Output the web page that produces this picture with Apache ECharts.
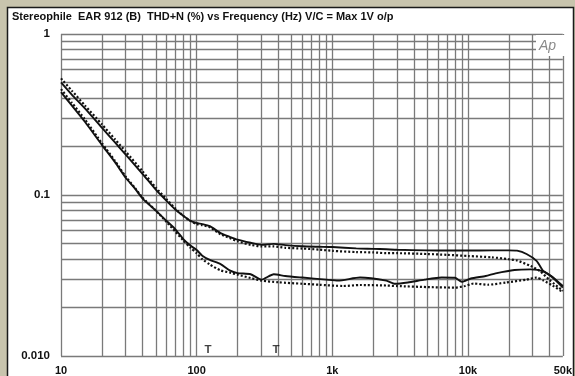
<!DOCTYPE html>
<html>
<head>
<meta charset="utf-8">
<script src="https://cdn.jsdelivr.net/npm/echarts@6/dist/echarts.min.js"></script>
<style>
  html, body { margin: 0; padding: 0; background: #c8c4ad; }
  #chart { width: 575px; height: 376px; }
</style>
</head>
<body>
<div id="chart"></div>
<script>
// THD+N (%) vs frequency (Hz), two channels, solid + dotted traces each
const freqASolid = [10, 12, 15, 20, 25, 30, 40, 50, 60, 70, 80, 90, 100, 110, 125, 150, 175, 200, 250, 300, 370, 450, 600, 800, 1000, 1500, 2000, 2500, 3000, 5000, 7000, 10000, 15000, 20000, 23000, 27000, 32000, 36000, 42000, 50000];
const thdASolid  = [0.50, 0.42, 0.345, 0.262, 0.212, 0.178, 0.135, 0.108, 0.092, 0.081, 0.074, 0.069, 0.067, 0.066, 0.064, 0.058, 0.055, 0.0528, 0.0505, 0.049, 0.0497, 0.0488, 0.048, 0.0477, 0.0475, 0.0466, 0.0463, 0.046, 0.0457, 0.0453, 0.0452, 0.0452, 0.0453, 0.0453, 0.0451, 0.043, 0.039, 0.0336, 0.031, 0.0272];

const freqADot = [10, 12, 15, 20, 25, 30, 40, 50, 60, 70, 80, 90, 100, 110, 125, 150, 175, 200, 250, 300, 370, 450, 600, 800, 1000, 1500, 2000, 2500, 3000, 5000, 7000, 10000, 15000, 20000, 23000, 29000, 34000, 40000, 50000];
const thdADot  = [0.53, 0.445, 0.36, 0.275, 0.222, 0.186, 0.14, 0.111, 0.094, 0.082, 0.074, 0.069, 0.066, 0.065, 0.063, 0.057, 0.054, 0.0516, 0.049, 0.048, 0.048, 0.047, 0.0465, 0.0458, 0.045, 0.0442, 0.044, 0.0435, 0.0435, 0.043, 0.0425, 0.0418, 0.041, 0.0399, 0.0392, 0.0362, 0.0336, 0.0296, 0.0254];

const freqBSolid = [10, 12, 15, 20, 25, 30, 35, 40, 50, 60, 70, 80, 90, 100, 110, 125, 150, 175, 200, 250, 300, 370, 450, 600, 900, 1100, 1600, 2500, 2900, 3600, 4800, 6400, 8000, 9000, 10500, 13500, 16000, 22000, 29000, 36000, 42000, 50000];
const thdBSolid  = [0.435, 0.36, 0.285, 0.205, 0.16, 0.128, 0.11, 0.095, 0.08, 0.069, 0.061, 0.053, 0.0485, 0.0455, 0.042, 0.0395, 0.0372, 0.034, 0.0327, 0.0322, 0.0298, 0.0322, 0.0314, 0.0307, 0.0298, 0.0294, 0.0307, 0.0294, 0.0281, 0.0286, 0.0298, 0.0307, 0.0306, 0.0289, 0.0303, 0.0314, 0.0326, 0.0342, 0.0345, 0.0335, 0.0307, 0.0266];

const freqBDot = [10, 12, 15, 20, 25, 30, 35, 40, 50, 60, 70, 80, 90, 100, 110, 125, 150, 175, 200, 250, 300, 400, 600, 800, 1200, 1600, 2500, 3000, 5000, 8000, 9500, 11000, 14000, 19000, 27000, 32000, 36000, 42000, 50000];
const thdBDot  = [0.455, 0.375, 0.295, 0.21, 0.163, 0.13, 0.111, 0.096, 0.08, 0.068, 0.059, 0.052, 0.047, 0.0435, 0.04, 0.037, 0.034, 0.033, 0.032, 0.0305, 0.0294, 0.0287, 0.0281, 0.0277, 0.0272, 0.0276, 0.0274, 0.0272, 0.0268, 0.0266, 0.0272, 0.0282, 0.0277, 0.0286, 0.0298, 0.0307, 0.0294, 0.0274, 0.0249];

// grid lines (1-2-3..9 per decade) and the "T" markers near the bottom
const xGridValues = [10, 20, 30, 40, 50, 60, 70, 80, 90, 100, 200, 300, 400, 500, 600, 700, 800, 900, 1000, 2000, 3000, 4000, 5000, 6000, 7000, 8000, 9000, 10000, 20000, 30000, 40000, 50000];
const yGridValues = [0.01, 0.02, 0.03, 0.04, 0.05, 0.06, 0.07, 0.08, 0.09, 0.1, 0.2, 0.3, 0.4, 0.5, 0.6, 0.7, 0.8, 0.9, 1];
const markerFreqs = [121, 385];
const markerLevel = 0.011;

const pair = (xs, ys) => xs.map((x, i) => [x, ys[i]]);
const ink = '#111111';
const gridColor = '#7a7a7a';
const font = 'Liberation Sans, Arial, sans-serif';

const chart = echarts.init(document.getElementById('chart'), null, { renderer: 'canvas' });

chart.setOption({
  backgroundColor: '#c8c4ad',
  animation: false,
  grid: { left: 61, right: 5.5, top: 34, bottom: 19.5 },
  xAxis: {
    type: 'log',
    logBase: 10,
    min: 10,
    max: 50000,
    axisLine: { show: false },
    axisTick: { show: false },
    splitLine: { show: false },
    axisLabel: {
      color: ink,
      fontSize: 11,
      fontWeight: 'bold',
      fontFamily: font,
      margin: 9,
      showMaxLabel: true,
      formatter: v => (v >= 1000 ? Math.round(v / 1000) + 'k' : String(Math.round(v)))
    }
  },
  yAxis: {
    type: 'log',
    logBase: 10,
    min: 0.01,
    max: 1,
    axisLine: { show: false },
    axisTick: { show: false },
    splitLine: { show: false },
    axisLabel: {
      color: ink,
      fontSize: 11.5,
      fontWeight: 'bold',
      fontFamily: font,
      margin: 11,
      formatter: v => (v < 0.05 ? '0.010' : v < 0.5 ? '0.1' : '1')
    }
  },
  graphic: [
    {
      type: 'rect', z: -1,
      shape: { x: 7.5, y: 7.5, width: 566, height: 380 },
      style: { fill: '#ffffff', stroke: '#1a1a1a', lineWidth: 1.5 }
    },
    {
      type: 'text', left: 12, top: 11,
      style: {
        text: 'Stereophile  EAR 912 (B)  THD+N (%) vs Frequency (Hz) V/C = Max 1V o/p',
        fill: ink,
        font: 'bold 11px "Liberation Sans", Arial, sans-serif'
      }
    },
    // blank patch behind the Ap logo
    {
      type: 'rect', z: 50,
      shape: { x: 536, y: 35, width: 32.5, height: 21 },
      style: { fill: '#ffffff' }
    },
    {
      type: 'text', z: 51, left: 539, top: 39,
      style: {
        text: 'Ap',
        fill: '#8a8a8a',
        font: 'italic 14px "Liberation Sans", Arial, sans-serif'
      }
    }
  ],
  series: [
    {
      // grid drawn as mark lines on an empty series
      type: 'line',
      data: [],
      silent: true,
      z: 1,
      markLine: {
        silent: true,
        symbol: 'none',
        animation: false,
        label: { show: false },
        lineStyle: { color: gridColor, width: 1.3, type: 'solid' },
        data: xGridValues.map(v => ({ xAxis: v })).concat(yGridValues.map(v => ({ yAxis: v })))
      }
    },
    {
      type: 'line', data: pair(freqASolid, thdASolid), showSymbol: false, smooth: 0.2, z: 5,
      lineStyle: { color: ink, width: 1.9 }
    },
    {
      type: 'line', data: pair(freqADot, thdADot), showSymbol: false, smooth: 0.2, z: 5,
      lineStyle: { color: ink, width: 2.2, type: [2, 2] }
    },
    {
      type: 'line', data: pair(freqBSolid, thdBSolid), showSymbol: false, smooth: 0.2, z: 5,
      lineStyle: { color: ink, width: 1.9 }
    },
    {
      type: 'line', data: pair(freqBDot, thdBDot), showSymbol: false, smooth: 0.2, z: 5,
      lineStyle: { color: ink, width: 2.2, type: [2, 2] }
    },
    {
      type: 'scatter',
      data: markerFreqs.map(f => [f, markerLevel]),
      symbolSize: 0,
      z: 6,
      label: {
        show: true,
        position: 'inside',
        formatter: 'T',
        color: ink,
        fontSize: 11.5,
        fontWeight: 'bold',
        fontFamily: font
      }
    }
  ]
});
</script>
</body>
</html>
